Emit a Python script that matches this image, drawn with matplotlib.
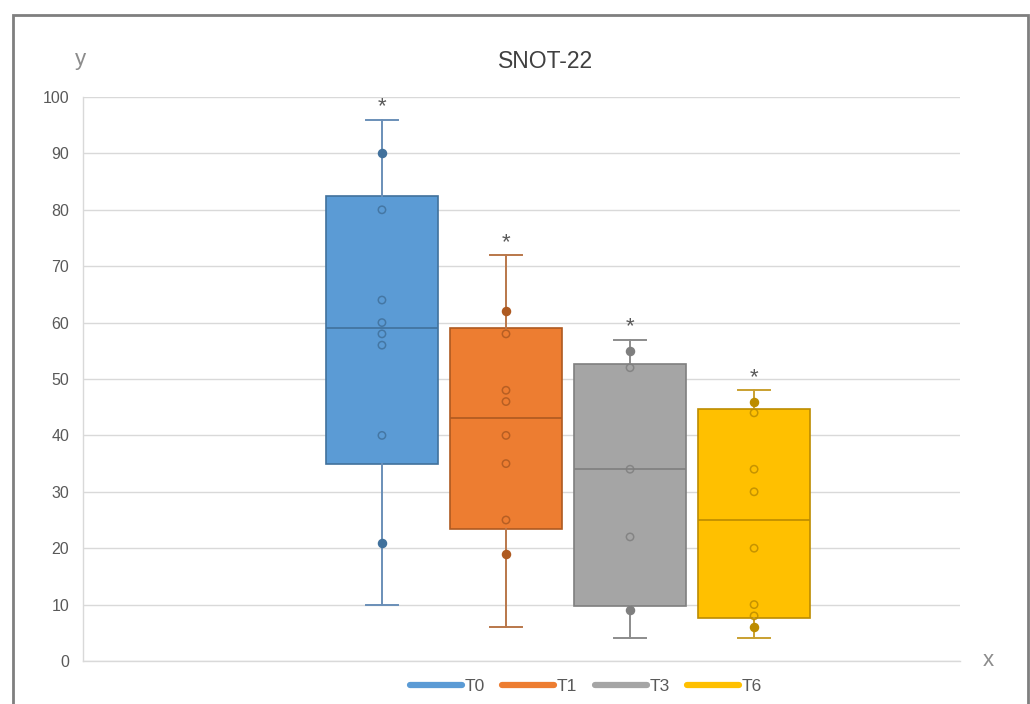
import matplotlib.pyplot as plt
from matplotlib.lines import Line2D
from matplotlib.patches import Rectangle

# data
NAMES = ["T0", "T1", "T3", "T6"]
WHIS_LO = [10, 6, 4, 4]
Q1 = [35, 23.4, 9.8, 7.6]
MEDIAN = [59, 43, 34, 25]
Q3 = [82.5, 59, 52.7, 44.7]
WHIS_HI = [96, 72, 57, 48]
INNER = [
    [80, 64, 60, 58, 56, 40],
    [58, 48, 46, 40, 35, 25],
    [52, 34, 22],
    [44, 34, 30, 20, 10, 8],
]
OUTER = [
    [90, 21],
    [62, 19],
    [55, 9],
    [46, 6],
]
Y_TICKS = list(range(0, 101, 10))

FILL = ["#5B9BD5", "#ED7D31", "#A5A5A5", "#FFC000"]
EDGE = ["#41719C", "#AE5A21", "#7F7F7F", "#BC8C00"]
WHISK = ["#6A8FB8", "#B9774A", "#8C8C8C", "#C9A030"]
GRID = "#D9D9D9"
TEXT = "#595959"
font = "Liberation Sans"

plt.rcParams["font.family"] = font

fig = plt.figure(figsize=(10.3, 7.04), dpi=100)
ax = fig.add_axes([83 / 1030, 1 - 661 / 704, (960 - 83) / 1030, (661 - 97) / 704])

positions = [1, 2, 3, 4]
for i, name in enumerate(NAMES):
    stats = [dict(whislo=WHIS_LO[i], q1=Q1[i], med=MEDIAN[i], q3=Q3[i],
                  whishi=WHIS_HI[i], fliers=[], label=name)]
    ax.bxp(
        stats,
        positions=[positions[i]],
        widths=0.9,
        capwidths=0.26,
        patch_artist=True,
        showfliers=False,
        boxprops=dict(facecolor=FILL[i], edgecolor=EDGE[i], linewidth=1.2),
        medianprops=dict(color=EDGE[i], linewidth=1.2),
        whiskerprops=dict(color=WHISK[i], linewidth=1.4),
        capprops=dict(color=WHISK[i], linewidth=1.4),
        zorder=3,
    )
    ax.scatter([positions[i]] * len(INNER[i]), INNER[i], s=28,
               facecolors="none", edgecolors=EDGE[i], linewidths=1.1,
               alpha=0.85, zorder=4)
    ax.scatter([positions[i]] * len(OUTER[i]), OUTER[i], s=34,
               color=EDGE[i], zorder=4)
    ax.text(positions[i], WHIS_HI[i] + 2.2, "*", ha="center", va="center",
            fontsize=16, color=TEXT, zorder=5)

ax.set_xlim(-1.41, 5.66)
ax.set_ylim(0, 100)
ax.set_yticks(Y_TICKS)
ax.set_yticklabels([str(t) for t in Y_TICKS], color=TEXT, fontsize=11.5)
ax.set_xticks([])
ax.tick_params(axis="y", length=0, pad=10)
ax.grid(axis="y", color=GRID, lw=1, zorder=0)
ax.set_axisbelow(True)

for side in ["top", "right"]:
    ax.spines[side].set_visible(False)
for side in ["left", "bottom"]:
    ax.spines[side].set_color(GRID)
    ax.spines[side].set_linewidth(1)

fig.text(546 / 1030, 1 - 62 / 704, "SNOT-22", ha="center", va="center",
         fontsize=16.5, color="#404040")
fig.text(80 / 1030, 1 - 60 / 704, "y", ha="center", va="center",
         fontsize=16, color="#8C8C8C")
fig.text(988 / 1030, 1 - 660 / 704, "x", ha="center", va="center",
         fontsize=16, color="#8C8C8C")

handles = [Line2D([0], [0], color=c, lw=4.5, solid_capstyle="round") for c in FILL]
fig.legend(handles, NAMES, loc="center", bbox_to_anchor=(586 / 1030, 1 - 686 / 704),
           ncol=4, frameon=False, fontsize=12.5, labelcolor=TEXT,
           handlelength=3.0, handletextpad=0.15, columnspacing=1.0)

# border around the whole picture
fig.patches.append(Rectangle((13 / 1030, -0.02), (1028 - 13) / 1030, 1.02 - 15 / 704,
                             transform=fig.transFigure, fill=False,
                             edgecolor="#7F7F7F", linewidth=2))

fig.savefig("out.png", dpi=100)
